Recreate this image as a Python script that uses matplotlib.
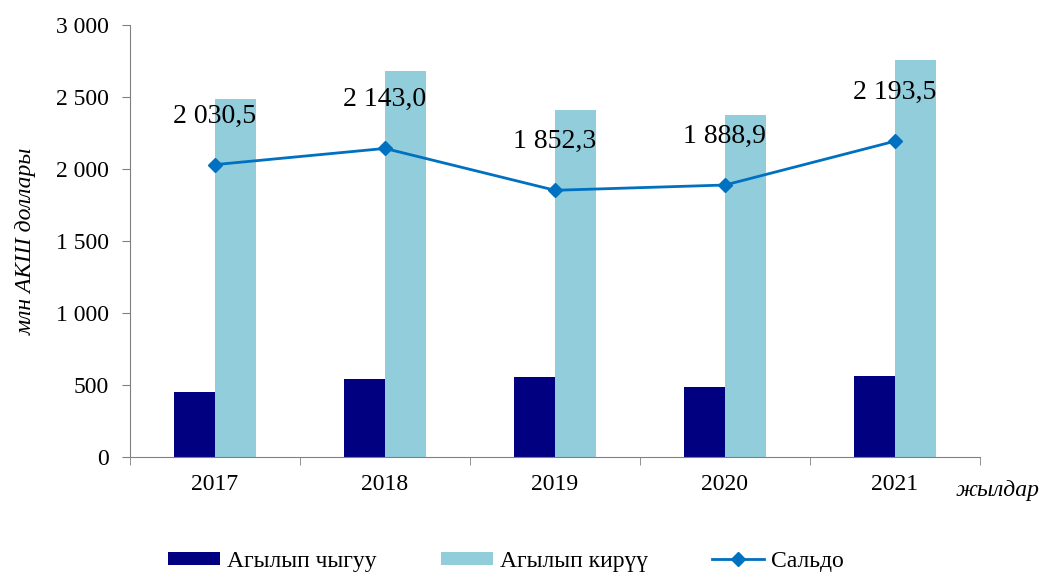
import matplotlib.pyplot as plt
import numpy as np

years = ['2017', '2018', '2019', '2020', '2021']
outflow = [452, 540, 555, 487, 565]
inflow = [2483, 2683, 2407, 2376, 2759]
saldo = [2030.5, 2143.0, 1852.3, 1888.9, 2193.5]
saldo_labels = ['2 030,5', '2 143,0', '1 852,3', '1 888,9', '2 193,5']
yticks = [0, 500, 1000, 1500, 2000, 2500, 3000]
ytick_labels = ['0', '500', '1 000', '1 500', '2 000', '2 500', '3 000']

plt.rcParams['font.family'] = ['Liberation Serif', 'DejaVu Serif']

fig = plt.figure(figsize=(10.43, 5.74), dpi=100)
ax = fig.add_axes([0.1246, 0.2038, 0.815, 0.7526])

x = np.arange(len(years))
w = 0.24
b1 = ax.bar(x - w / 2, outflow, w, color='#000080', label='Агылып чыгуу')
b2 = ax.bar(x + w / 2, inflow, w, color='#92CDDC', label='Агылып кирүү')
ln, = ax.plot(x, saldo, color='#0070C0', lw=2, marker='D', ms=7, label='Сальдо')

for xi, v, s in zip(x, saldo, saldo_labels):
    ax.annotate(s, (xi, v), xytext=(0, 26), textcoords='offset points',
                ha='center', va='bottom', fontsize=20)

ax.set_xlim(-0.5, 4.5)
ax.set_ylim(0, 3000)
ax.set_yticks(yticks)
ax.set_yticklabels(ytick_labels, fontsize=17)
ax.set_xticks(x)
ax.set_xticklabels(years, fontsize=17)
ax.set_xticks(np.arange(-0.5, 5, 1), minor=True)
ax.tick_params(axis='x', which='major', length=0, pad=12)
ax.tick_params(axis='x', which='minor', length=6, color='#808080')
ax.tick_params(axis='y', length=6, color='#808080', pad=9)

for side in ['top', 'right']:
    ax.spines[side].set_visible(False)
for side in ['left', 'bottom']:
    ax.spines[side].set_color('#808080')

ax.set_ylabel('млн АКШ доллары', fontsize=17, style='italic', labelpad=14)
fig.text(0.997, 0.145, 'жылдар', fontsize=17, style='italic', ha='right', va='center')

fig.legend([b1, b2, ln], ['Агылып чыгуу', 'Агылып кирүү', 'Сальдо'],
           loc='center', bbox_to_anchor=(0.485, 0.022), ncol=3, frameon=False,
           fontsize=17, handlelength=2.2, handleheight=0.5, handletextpad=0.3,
           columnspacing=2.7)

fig.savefig('out.png', dpi=100)
